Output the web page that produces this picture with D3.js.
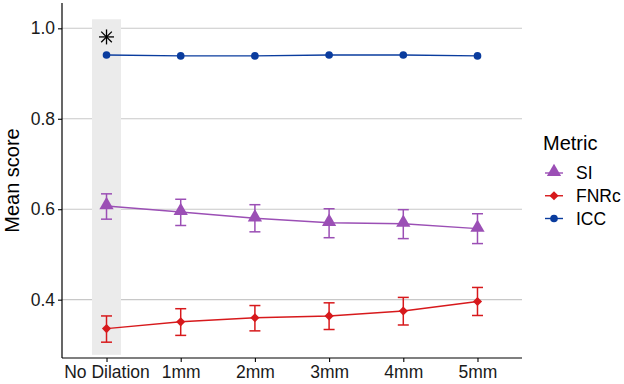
<!DOCTYPE html>
<html>
<head>
<meta charset="utf-8">
<script src="https://cdn.jsdelivr.net/npm/d3@7"></script>
<style>
  body { margin: 0; background: #fff; }
  svg { font-family: "Liberation Sans", Arial, sans-serif; }
</style>
</head>
<body>
<div class="chart"></div>
<script>
const width = 624;
const height = 384;
const margin = { left: 62, right: 102, top: 3, bottom: 26 };

// categories and series
const dilations = ["No Dilation", "1mm", "2mm", "3mm", "4mm", "5mm"];
const metrics = ["SI", "FNRc", "ICC"];

const siMean = [0.607, 0.594, 0.580, 0.570, 0.568, 0.557];
const siLow  = [0.578, 0.564, 0.550, 0.537, 0.535, 0.524];
const siHigh = [0.634, 0.622, 0.610, 0.601, 0.599, 0.590];

const fnrMean = [0.336, 0.351, 0.360, 0.364, 0.375, 0.396];
const fnrLow  = [0.306, 0.321, 0.331, 0.334, 0.344, 0.365];
const fnrHigh = [0.364, 0.380, 0.387, 0.393, 0.405, 0.427];

const iccMean = [0.941, 0.939, 0.939, 0.941, 0.941, 0.939];

const yTicks = [0.4, 0.6, 0.8, 1.0];
const yDomain = [0.271, 1.056];
const highlight = { category: "No Dilation", low: 0.278, high: 1.02, star: 0.981 };

const colors = { SI: "#9b4fb5", FNRc: "#d7191c", ICC: "#0a3c9e" };

const series = [
  { name: "SI", mean: siMean, low: siLow, high: siHigh },
  { name: "FNRc", mean: fnrMean, low: fnrLow, high: fnrHigh },
  { name: "ICC", mean: iccMean, low: null, high: null }
];

const svg = d3.select(".chart").append("svg")
  .attr("width", width)
  .attr("height", height);

const x = d3.scalePoint()
  .domain(dilations)
  .range([margin.left, width - margin.right])
  .padding(0.6);

const y = d3.scaleLinear()
  .domain(yDomain)
  .range([height - margin.bottom, margin.top]);

// grid lines
svg.append("g")
  .selectAll("line")
  .data(yTicks)
  .join("line")
  .attr("x1", margin.left)
  .attr("x2", width - margin.right)
  .attr("y1", d => y(d))
  .attr("y2", d => y(d))
  .attr("stroke", "#c8c8c8")
  .attr("stroke-width", 1.1);

// highlighted column
svg.append("rect")
  .attr("x", x(highlight.category) - 14.5)
  .attr("width", 29)
  .attr("y", y(highlight.high))
  .attr("height", y(highlight.low) - y(highlight.high))
  .attr("fill", "#ebebeb");

// symbols
function shapeFor(name) {
  if (name === "SI") return d3.symbol(d3.symbolTriangle, 88)();
  if (name === "FNRc") return d3.symbol(d3.symbolSquare, 42)();
  return d3.symbol(d3.symbolCircle, 46)();
}
function shapeRotate(name) {
  return name === "FNRc" ? " rotate(45)" : "";
}

const line = d3.line()
  .x(d => x(d.cat))
  .y(d => y(d.v));

series.forEach(s => {
  const pts = dilations.map((c, i) => ({ cat: c, v: s.mean[i], lo: s.low ? s.low[i] : null, hi: s.high ? s.high[i] : null }));
  const g = svg.append("g");

  g.append("path")
    .datum(pts)
    .attr("d", line)
    .attr("fill", "none")
    .attr("stroke", colors[s.name])
    .attr("stroke-width", 1.4);

  if (s.low) {
    const eb = g.selectAll("g.eb").data(pts).join("g").attr("class", "eb")
      .attr("stroke", colors[s.name])
      .attr("stroke-width", 1.5);
    eb.append("line")
      .attr("x1", d => x(d.cat)).attr("x2", d => x(d.cat))
      .attr("y1", d => y(d.lo)).attr("y2", d => y(d.hi));
    eb.append("line")
      .attr("x1", d => x(d.cat) - 5.5).attr("x2", d => x(d.cat) + 5.5)
      .attr("y1", d => y(d.lo)).attr("y2", d => y(d.lo));
    eb.append("line")
      .attr("x1", d => x(d.cat) - 5.5).attr("x2", d => x(d.cat) + 5.5)
      .attr("y1", d => y(d.hi)).attr("y2", d => y(d.hi));
  }

  g.selectAll("path.pt").data(pts).join("path")
    .attr("class", "pt")
    .attr("d", shapeFor(s.name))
    .attr("transform", d => `translate(${x(d.cat)},${y(d.v) + (s.name === "SI" ? -1 : 0)})` + shapeRotate(s.name))
    .attr("fill", colors[s.name]);
});

// asterisk marker
const star = svg.append("g")
  .attr("transform", `translate(${x(highlight.category)},${y(highlight.star)})`)
  .attr("stroke", "#000")
  .attr("stroke-width", 1.3);
[0, 45, 90, 135].forEach(a => {
  star.append("line")
    .attr("x1", -7.5).attr("x2", 7.5)
    .attr("y1", 0).attr("y2", 0)
    .attr("transform", `rotate(${a})`);
});

// axes
const xAxis = svg.append("g")
  .attr("transform", `translate(0,${height - margin.bottom})`)
  .call(d3.axisBottom(x).tickSize(4).tickPadding(4).tickSizeOuter(0));
const yAxis = svg.append("g")
  .attr("transform", `translate(${margin.left},0)`)
  .call(d3.axisLeft(y).tickValues(yTicks).tickFormat(d3.format(".1f")).tickSize(4).tickPadding(3).tickSizeOuter(0));

[xAxis, yAxis].forEach(a => {
  a.select(".domain").attr("stroke", "#000").attr("stroke-width", 1.2);
  a.selectAll(".tick line").attr("stroke", "#000").attr("stroke-width", 1.1);
  a.selectAll(".tick text").attr("fill", "#1a1a1a").style("font-size", "17.5px").style("font-family", "Liberation Sans, Arial, sans-serif");
});
// full-length axis lines
xAxis.select(".domain").attr("d", `M${margin.left},0H${width - margin.right}`);
yAxis.select(".domain").attr("d", `M0,${margin.top}V${height - margin.bottom}`);

// y axis title
svg.append("text")
  .attr("transform", `translate(19,${(margin.top + height - margin.bottom) / 2}) rotate(-90)`)
  .attr("text-anchor", "middle")
  .style("font-size", "20px")
  .attr("fill", "#000")
  .text("Mean score");

// legend
const legend = svg.append("g").attr("transform", "translate(543,0)");
legend.append("text")
  .attr("x", 0).attr("y", 150)
  .style("font-size", "20px")
  .attr("fill", "#000")
  .text("Metric");

const keyY = d3.scalePoint().domain(metrics).range([173, 218.5]);
metrics.forEach(m => {
  const k = legend.append("g").attr("transform", `translate(11,${keyY(m)})`);
  k.append("line")
    .attr("x1", -9).attr("x2", 9)
    .attr("stroke", colors[m]).attr("stroke-width", 1.4);
  k.append("path")
    .attr("d", shapeFor(m))
    .attr("transform", (m === "SI" ? "translate(0,-1)" : "") + shapeRotate(m))
    .attr("fill", colors[m]);
  legend.append("text")
    .attr("x", 33).attr("y", keyY(m))
    .attr("dy", "0.36em")
    .style("font-size", "17.5px")
    .attr("fill", "#000")
    .text(m);
});
</script>
</body>
</html>
